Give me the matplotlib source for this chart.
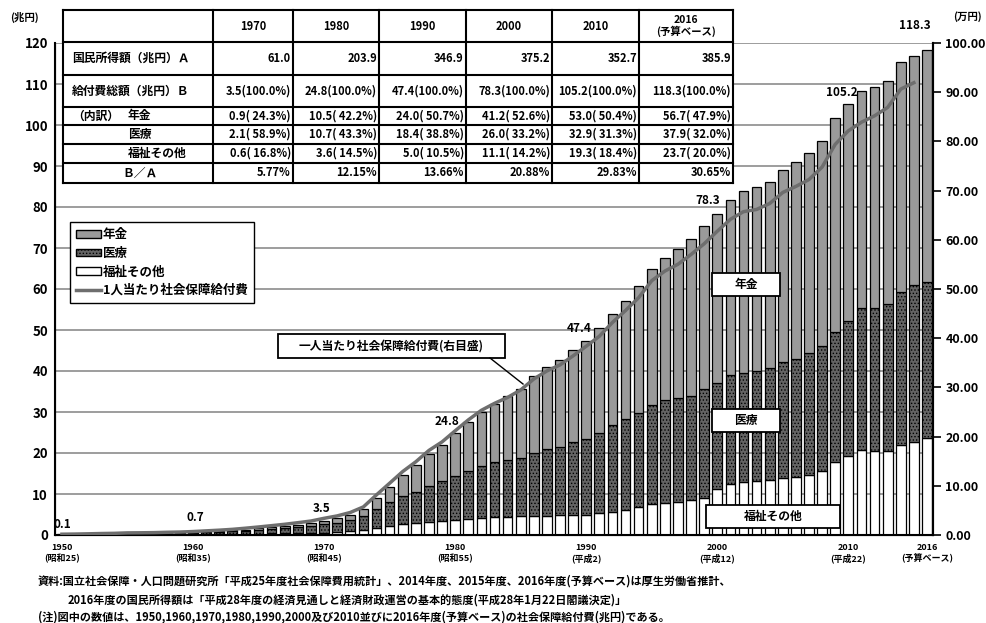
import matplotlib
matplotlib.use("Agg")
import matplotlib.pyplot as plt
from matplotlib.patches import Patch, Rectangle
from matplotlib.lines import Line2D

plt.rcParams['font.family'] = ['Noto Sans CJK JP', 'DejaVu Sans']
plt.rcParams['font.weight'] = 'bold'
plt.rcParams['hatch.linewidth'] = 0.6

# ---- data (兆円) ----
years = list(range(1950, 2017))
welfare = [0.05, 0.06, 0.07, 0.09, 0.10, 0.12, 0.12, 0.13, 0.15, 0.17,
           0.21, 0.24, 0.27, 0.30, 0.33, 0.36, 0.40, 0.44, 0.48, 0.52,
           0.60, 0.79, 0.94, 1.22, 1.60, 2.25, 2.65, 2.90, 3.10, 3.30,
           3.60, 4.00, 4.20, 4.35, 4.45, 4.55, 4.65, 4.75, 4.80, 4.90,
           5.00, 5.30, 5.70, 6.10, 6.80, 7.50, 7.80, 8.10, 8.60, 9.00,
           11.1, 12.4, 13.0, 13.1, 13.4, 13.9, 14.1, 14.6, 15.6, 17.8,
           19.3, 20.8, 20.4, 20.6, 22.0, 22.8, 23.7]
medical = [0.06, 0.09, 0.12, 0.15, 0.17, 0.19, 0.20, 0.22, 0.27, 0.30,
           0.29, 0.37, 0.46, 0.58, 0.74, 0.90, 1.07, 1.26, 1.48, 1.71,
           2.06, 2.25, 2.76, 3.43, 4.74, 5.68, 6.81, 7.49, 8.88, 9.85,
           10.7, 11.6, 12.6, 13.4, 13.9, 14.3, 15.3, 16.2, 16.7, 17.9,
           18.4, 19.6, 21.1, 22.1, 22.9, 24.2, 25.1, 25.3, 25.4, 26.5,
           26.0, 26.7, 26.5, 26.8, 27.3, 28.2, 28.9, 29.7, 30.6, 31.7,
           32.9, 34.5, 34.9, 35.8, 37.3, 38.1, 37.9]
pension = [0.02, 0.01, 0.02, 0.02, 0.03, 0.08, 0.08, 0.08, 0.08, 0.09,
           0.15, 0.18, 0.20, 0.23, 0.27, 0.34, 0.41, 0.48, 0.57, 0.68,
           0.86, 1.04, 1.23, 1.58, 2.68, 3.84, 5.13, 6.60, 7.81, 8.83,
           10.48, 11.9, 13.1, 14.25, 15.45, 16.85, 18.75, 20.05, 21.1, 22.4,
           24.0, 25.5, 27.2, 28.8, 31.0, 33.3, 34.7, 36.4, 38.3, 39.9,
           41.2, 42.6, 44.4, 44.9, 45.5, 47.0, 47.9, 48.9, 50.0, 52.2,
           53.0, 53.1, 53.9, 54.4, 56.0, 56.0, 56.7]

# 1人当たり社会保障給付費 (万円), 1950-2015
pc_years = list(range(1950, 2016))
per_capita = [0.16, 0.19, 0.24, 0.30, 0.34, 0.43, 0.45, 0.48, 0.55, 0.60,
              0.70, 0.84, 0.98, 1.15, 1.38, 1.63, 1.90, 2.18, 2.50, 2.84,
              3.39, 3.88, 4.58, 5.71, 8.16, 10.52, 12.90, 14.88, 17.19, 18.92,
              21.17, 23.38, 25.34, 26.75, 27.96, 29.47, 31.71, 33.34, 34.57, 36.41,
              38.36, 40.39, 43.19, 45.63, 48.23, 51.69, 53.64, 55.03, 57.02, 59.19,
              61.74, 64.16, 65.72, 66.17, 67.38, 69.63, 70.85, 72.26, 74.79, 79.41,
              82.15, 83.90, 85.20, 86.90, 90.63, 91.93]

label_years = [1950, 1960, 1970, 1980, 1990, 2000, 2010, 2016]
label_texts = ['0.1', '0.7', '3.5', '24.8', '47.4', '78.3', '105.2', '118.3']

tick_years = [1950, 1960, 1970, 1980, 1990, 2000, 2010, 2016]
tick_labels = ['1950\n(昭和25)', '1960\n(昭和35)', '1970\n(昭和45)', '1980\n(昭和55)',
               '1990\n(平成2)', '2000\n(平成12)', '2010\n(平成22)', '2016\n(予算ベース)']

# table
table_cols = ['1970', '1980', '1990', '2000', '2010', '2016\n(予算ベース)']
income_a = ['61.0', '203.9', '346.9', '375.2', '352.7', '385.9']
total_b = ['3.5(100.0%)', '24.8(100.0%)', '47.4(100.0%)', '78.3(100.0%)',
           '105.2(100.0%)', '118.3(100.0%)']
pension_tbl = ['0.9( 24.3%)', '10.5( 42.2%)', '24.0( 50.7%)', '41.2( 52.6%)',
               '53.0( 50.4%)', '56.7( 47.9%)']
medical_tbl = ['2.1( 58.9%)', '10.7( 43.3%)', '18.4( 38.8%)', '26.0( 33.2%)',
               '32.9( 31.3%)', '37.9( 32.0%)']
welfare_tbl = ['0.6( 16.8%)', '3.6( 14.5%)', '5.0( 10.5%)', '11.1( 14.2%)',
               '19.3( 18.4%)', '23.7( 20.0%)']
ratio_tbl = ['5.77%', '12.15%', '13.66%', '20.88%', '29.83%', '30.65%']

# ---- styles ----
C_PENSION = '#9a9a9a'
C_MEDICAL = '#646464'
C_WELFARE = 'white'
C_LINE = '#6e6e6e'
W, H = 987, 623

fig = plt.figure(figsize=(W / 100, H / 100), dpi=100)
ax = fig.add_axes([55 / W, 88 / H, 878 / W, 492 / H])

bot2 = [w + m for w, m in zip(welfare, medical)]
ax.bar(years, welfare, width=0.74, color=C_WELFARE, edgecolor='black', linewidth=0.9, zorder=2)
ax.bar(years, medical, bottom=welfare, width=0.74, color=C_MEDICAL, edgecolor='black',
       hatch='.....', linewidth=0.9, zorder=2)
ax.bar(years, pension, bottom=bot2, width=0.74, color=C_PENSION, edgecolor='black',
       linewidth=0.9, zorder=2)

ax.set_xlim(1949.47, 2016.46)
ax.set_ylim(0, 120)
ax.set_yticks(range(0, 121, 10))
ax.yaxis.grid(True, color='#8c8c8c', linewidth=1.2)
ax.set_axisbelow(True)
ax.tick_params(axis='y', length=0, pad=5, labelsize=9.5)
ax.set_xticks(tick_years, tick_labels)
ax.tick_params(axis='x', length=0, pad=6, labelsize=6.5)
for lbl in ax.get_xticklabels():
    lbl.set_linespacing(1.15)
for side in ['left', 'bottom', 'right']:
    ax.spines[side].set_linewidth(1.5)
ax.spines['top'].set_visible(False)

totals = dict(zip(years, [b + p for b, p in zip(bot2, pension)]))
label_dx = [0.0, 0.2, -0.2, -0.6, -0.5, -0.7, -0.5, -0.9]
label_dy = [0.8, 2.0, 1.3, 1.3, 1.4, 1.6, 1.1, 4.4]
for yr, txt, dx, dy in zip(label_years, label_texts, label_dx, label_dy):
    ax.text(yr + dx, totals[yr] + dy, txt, ha='center', va='bottom', fontsize=8.5,
            clip_on=False, zorder=6)

ax2 = ax.twinx()
ax2.plot(pc_years, per_capita, color=C_LINE, linewidth=2.5, zorder=5)
ax2.set_ylim(0, 100)
ax2.set_yticks(range(0, 101, 10))
ax2.set_yticklabels([f'{v:.2f}' for v in range(0, 101, 10)])
ax2.tick_params(axis='y', direction='out', length=6, width=1.2, pad=3, labelsize=9)
ax2.spines['top'].set_visible(False)
ax2.spines['right'].set_linewidth(1.5)

handles = [
    Patch(facecolor=C_PENSION, edgecolor='black', label='年金'),
    Patch(facecolor=C_MEDICAL, edgecolor='black', hatch='.....', label='医療'),
    Patch(facecolor=C_WELFARE, edgecolor='black', label='福祉その他'),
    Line2D([0], [0], color=C_LINE, linewidth=2.5, label='1人当たり社会保障給付費'),
]
leg = ax2.legend(handles=handles, loc='upper left', bbox_to_anchor=(70 / W, 1 - 222 / H),
                 bbox_transform=fig.transFigure, borderaxespad=0, fontsize=9,
                 frameon=True, fancybox=False, edgecolor='black', framealpha=1,
                 handlelength=2.0, handleheight=0.55, handletextpad=0.1,
                 labelspacing=0.45, borderpad=0.5)
leg.get_frame().set_linewidth(1.0)

# ---- overlay in pixel coordinates: table, call-outs, notes ----
ov = fig.add_axes([0, 0, 1, 1])
ov.set_xlim(0, W)
ov.set_ylim(H, 0)
ov.axis('off')
ov.set_zorder(10)

col_x = [63, 213, 293, 379, 466, 552, 639, 733]
row_y = [10, 42, 75, 107, 125, 144, 163, 183]
ov.add_patch(Rectangle((col_x[0], row_y[0]), col_x[-1] - col_x[0], row_y[-1] - row_y[0],
                       facecolor='white', edgecolor='none'))
for x in col_x:
    ov.plot([x, x], [row_y[0], row_y[-1]], color='black', linewidth=1.5)
for y in row_y:
    ov.plot([col_x[0], col_x[-1]], [y, y], color='black', linewidth=1.5)

for j, head in enumerate(table_cols):
    cx = (col_x[j + 1] + col_x[j + 2]) / 2
    ov.text(cx, (row_y[0] + row_y[1]) / 2, head, ha='center', va='center',
            fontsize=7.5 if '\n' in head else 8, linespacing=1.05)

row_labels = [('国民所得額（兆円）Ａ', 72), ('給付費総額（兆円）Ｂ', 72), ('年金', 128),
              ('医療', 128), ('福祉その他', 128)]
for i, (txt, x) in enumerate(row_labels):
    ov.text(x, (row_y[i + 1] + row_y[i + 2]) / 2, txt, ha='left', va='center', fontsize=8.5)
ov.text(72, (row_y[3] + row_y[4]) / 2, '（内訳）', ha='left', va='center', fontsize=8.5)
ov.text(140, (row_y[6] + row_y[7]) / 2, 'Ｂ／Ａ', ha='center', va='center', fontsize=8.5)

for i, vals in enumerate([income_a, total_b, pension_tbl, medical_tbl, welfare_tbl, ratio_tbl]):
    yc = (row_y[i + 1] + row_y[i + 2]) / 2
    for j, v in enumerate(vals):
        ov.text(col_x[j + 2] - 2, yc, v, ha='right', va='center', fontsize=8)

# call-out boxes
boxes = [('年金', 712, 273, 68, 23), ('医療', 712, 409, 68, 23),
         ('福祉その他', 706, 505, 134, 23), ('一人当たり社会保障給付費(右目盛)', 278, 334, 227, 24)]
for txt, x, y, w, h in boxes:
    ov.add_patch(Rectangle((x, y), w, h, facecolor='white', edgecolor='black', linewidth=1.3))
    ov.text(x + w / 2, y + h / 2, txt, ha='center', va='center', fontsize=8.5)
ov.plot([490, 523], [358, 384], color='black', linewidth=1.0)

# unit labels
ov.text(24, 17, '(兆円)', ha='center', va='center', fontsize=7.5)
ov.text(967, 17, '(万円)', ha='center', va='center', fontsize=7.5)

# notes
ov.text(38, 581, '資料:国立社会保障・人口問題研究所「平成25年度社会保障費用統計」、2014年度、2015年度、'
        '2016年度(予算ベース)は厚生労働省推計、', ha='left', va='center', fontsize=8)
ov.text(68, 600, '2016年度の国民所得額は「平成28年度の経済見通しと経済財政運営の基本的態度'
        '(平成28年1月22日閣議決定)」', ha='left', va='center', fontsize=8)
ov.text(38, 617, '(注)図中の数値は、1950,1960,1970,1980,1990,2000及び2010並びに2016年度'
        '(予算ベース)の社会保障給付費(兆円)である。', ha='left', va='center', fontsize=8)

fig.savefig('out.png', dpi=100)
